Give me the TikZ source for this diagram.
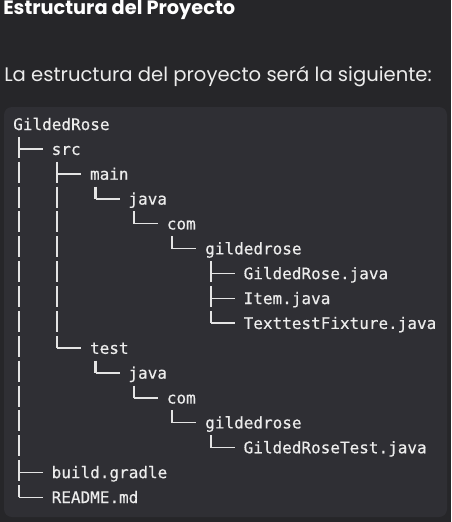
\documentclass[tikz,border=0pt]{standalone}
\usepackage{fontspec}
\setmainfont{Poppins}
\setmonofont[FakeBold=0.4]{DejaVu Sans Mono}
\usetikzlibrary{calc}
\definecolor{pagebg}{RGB}{38,38,41}
\definecolor{codebg}{RGB}{47,47,52}
\definecolor{codefg}{RGB}{236,236,236}
\definecolor{linefg}{RGB}{228,228,228}

\begin{document}
\begin{tikzpicture}[x=0.75pt,y=-0.75pt,
	every node/.style={inner sep=0,anchor=base west},
	heading/.style={font=\fontsize{14.5}{17}\selectfont\bfseries,text=white},
	para/.style={font=\fontsize{14.7}{17}\selectfont,text=codefg},
	entry/.style={font=\ttfamily\fontsize{12}{14}\selectfont,text=codefg},
	branch/.style={draw=linefg,line width=1.1pt},
	trunk/.style={draw=linefg,line width=1.6pt,dash pattern=on 15.75pt off 2.9pt}]
\fill[pagebg] (0,0) rectangle (451,522);
\useasboundingbox (0,0) rectangle (451,522);
\fill[codebg,rounded corners=6pt] (4,107) rectangle (447,517);
\node[heading] (title) at (3,14) {Estructura del Proyecto};
\node[para] (intro) at (4,81) {La estructura del proyecto será la siguiente:};
% one row per entry, one column per level
\begin{scope}[shift={(13,130)},x=28.8pt,y=-18.65pt]
\node[entry] (root) at (0,0) {GildedRose};
\node[entry] (src) at (1,1) {src};
\node[entry] (main) at (2,2) {main};
\node[entry] (mjava) at (3,3) {java};
\node[entry] (mcom) at (4,4) {com};
\node[entry] (mpkg) at (5,5) {gildedrose};
\node[entry] (rosefile) at (6,6) {GildedRose.java};
\node[entry] (itemfile) at (6,7) {Item.java};
\node[entry] (fixturefile) at (6,8) {TexttestFixture.java};
\node[entry] (test) at (2,9) {test};
\node[entry] (tjava) at (3,10) {java};
\node[entry] (tcom) at (4,11) {com};
\node[entry] (tpkg) at (5,12) {gildedrose};
\node[entry] (testfile) at (6,13) {GildedRoseTest.java};
\node[entry] (gradle) at (1,14) {build.gradle};
\node[entry] (readme) at (1,15) {README.md};
\end{scope}
% vertical bars: parent / first child / last child
\foreach \p/\f/\l in {root/src/readme,src/main/test,main/mjava/mjava,mjava/mcom/mcom,
	mcom/mpkg/mpkg,mpkg/rosefile/fixturefile,test/tjava/tjava,tjava/tcom/tcom,
	tcom/tpkg/tpkg,tpkg/testfile/testfile}
	\draw[trunk] ($(\p.base west |- \f.base west)+(4.3pt,13.5pt)$)
		-- ($(\p.base west |- \l.base west)+(4.3pt,4.3pt)$);
% branches
\foreach \p/\c in {root/src,root/gradle,root/readme,src/main,src/test,main/mjava,
	mjava/mcom,mcom/mpkg,mpkg/rosefile,mpkg/itemfile,mpkg/fixturefile,
	test/tjava,tjava/tcom,tcom/tpkg,tpkg/testfile}
	\draw[branch] ($(\p.base west |- \c.base west)+(4.3pt,4.3pt)$)
		-- ($(\c.base west)+(-6.5pt,4.3pt)$);
\end{tikzpicture}
\end{document}
